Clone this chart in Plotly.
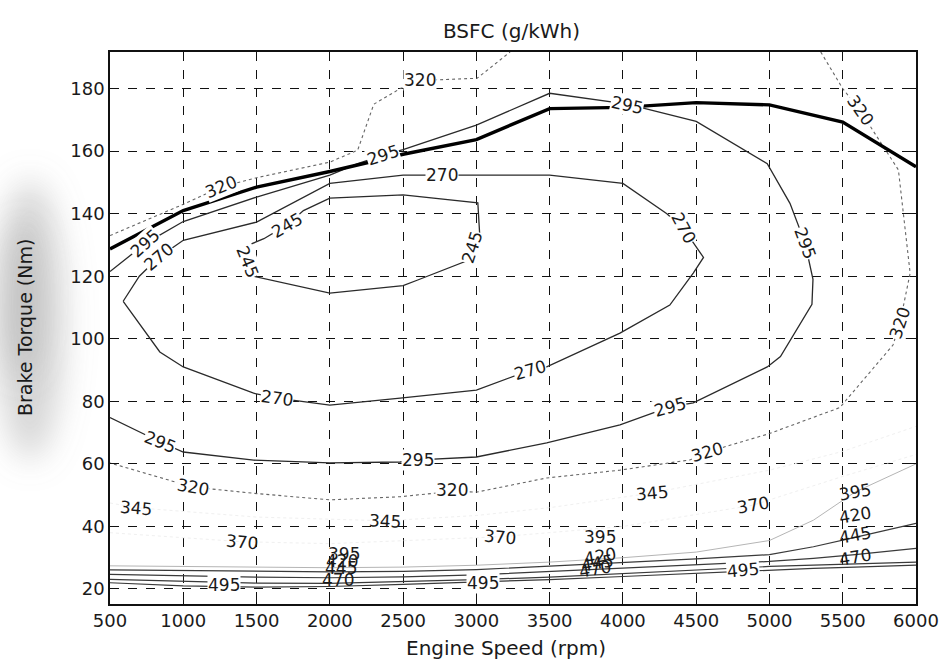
import base64
import plotly.graph_objects as go

# ---- axes -----------------------------------------------------------------
rpm_ticks = [500, 1000, 1500, 2000, 2500, 3000, 3500, 4000, 4500, 5000, 5500, 6000]
torque_ticks = [20, 40, 60, 80, 100, 120, 140, 160, 180]

# ---- full-load (maximum torque) curve ---------------------------------------
wot_rpm = [500, 1000, 1500, 2000, 2500, 3000, 3500, 4000, 4500, 5000, 5500, 6000]
wot_nm = [128.7, 141.0, 148.5, 153.5, 159.0, 163.7, 173.6, 174.0, 175.5, 174.8, 169.3, 155.0]

# ---- BSFC iso-lines (g/kWh) ------------------------------------------------
bsfc_245_rpm = [1480, 1400, 1420, 1550, 1711, 1820, 2000, 2500, 3010, 3025, 2972, 2940, 2600, 2500, 2000, 1480]
bsfc_245_nm = [120.0, 124.0, 129.5, 132.0, 136.5, 141.0, 145.0, 146.0, 143.5, 131.5, 129.3, 125.0, 118.8, 117.0, 114.6, 120.0]

bsfc_270_rpm = [590, 700, 831, 1000, 1500, 2000, 2500, 2766, 3000, 3500, 4000, 4300, 4413, 4550,
                4480, 4320, 3980, 3480, 3368, 3000, 2480, 2000, 1642, 1480, 1000, 840, 590]
bsfc_270_nm = [112.0, 120.0, 126.0, 131.5, 137.3, 149.7, 152.3, 152.3, 152.3, 152.3, 149.7, 140.0, 135.3, 126.0,
               121.0, 110.8, 101.8, 91.0, 90.0, 83.6, 81.0, 78.8, 81.0, 82.6, 91.0, 95.8, 112.0]

bsfc_295_rpm = [500, 742, 1000, 1500, 2000, 2190, 2365, 2500, 3000, 3500, 4030, 4500, 4985, 5140, 5243,
                5297, 5290, 5075, 4985, 4480, 4320, 3980, 3480, 3000, 2605, 2480, 2000, 1480, 1000, 843, 500]
bsfc_295_nm = [121.5, 130.5, 137.5, 145.3, 152.3, 156.0, 158.7, 160.5, 168.3, 178.5, 175.0, 169.5, 156.0, 143.3, 130.6,
               119.0, 111.0, 94.3, 91.0, 79.5, 78.2, 72.5, 66.7, 62.2, 61.3, 60.6, 60.3, 61.2, 63.8, 67.0, 74.8]

bsfc_320a_rpm = [500, 1000, 1254, 1500, 2000, 2190, 2300, 2480, 2618, 3005, 3230]
bsfc_320a_nm = [133.0, 143.0, 148.5, 151.5, 156.5, 160.3, 175.0, 180.0, 182.6, 183.3, 191.7]

bsfc_320b_rpm = [5350, 5500, 5618, 5843, 5880, 5960, 5925, 5890, 5843, 5480, 5000, 4576, 4460, 3980,
                 3480, 3005, 2835, 2480, 2000, 1480, 1063, 500]
bsfc_320b_nm = [191.7, 180.0, 173.0, 157.0, 154.0, 121.0, 112.6, 105.0, 98.0, 78.0, 69.7, 63.8, 61.3, 58.0,
                55.5, 51.0, 51.2, 49.5, 48.5, 50.6, 52.6, 60.3]

bsfc_345_rpm = [500, 674, 1500, 2379, 3000, 3500, 4200, 5000, 5500, 6000]
bsfc_345_nm = [47.5, 46.0, 43.0, 41.8, 43.5, 46.0, 50.7, 58.0, 64.0, 72.0]

bsfc_370_rpm = [500, 1404, 2000, 3163, 4000, 4888, 5500, 6000]
bsfc_370_nm = [38.0, 35.1, 34.5, 36.7, 40.0, 46.8, 56.0, 63.0]

low_rpm = [500, 1000, 1500, 2000, 2500, 3000, 3500, 4000, 4500, 5000, 5300, 5584, 6000]
bsfc_395_nm = [27.4, 27.2, 27.0, 26.8, 27.0, 27.6, 28.6, 30.0, 31.8, 35.5, 42.0, 51.0, 60.0]
bsfc_420_nm = [26.1, 25.9, 25.6, 25.5, 25.6, 26.2, 27.3, 28.4, 29.6, 31.0, 33.5, 36.5, 41.0]
bsfc_445_nm = [24.7, 24.2, 23.8, 23.6, 23.9, 24.5, 25.6, 26.8, 27.8, 28.8, 29.8, 31.0, 33.0]
bsfc_470_nm = [23.1, 22.4, 21.9, 21.8, 22.3, 23.0, 23.8, 25.0, 26.0, 27.2, 27.6, 28.0, 28.6]
bsfc_495_nm = [22.0, 21.0, 20.6, 20.8, 21.5, 22.2, 23.0, 24.0, 25.0, 26.2, 26.6, 27.0, 27.6]

# ---- drawing --------------------------------------------------------------
FONT = "DejaVu Sans"
INK = "#1a1a1a"
W, H = 939, 664
ML, MR, MT, MB = 110, 23, 52, 60

fig = go.Figure()

iso_lines = [
    (245, bsfc_245_rpm, bsfc_245_nm, dict(color="#2a2a2a", width=1.3)),
    (270, bsfc_270_rpm, bsfc_270_nm, dict(color="#2a2a2a", width=1.3)),
    (295, bsfc_295_rpm, bsfc_295_nm, dict(color="#2a2a2a", width=1.3)),
    (320, bsfc_320a_rpm, bsfc_320a_nm, dict(color="#666666", width=1.1, dash="dot")),
    (320, bsfc_320b_rpm, bsfc_320b_nm, dict(color="#666666", width=1.1, dash="dot")),
    (345, bsfc_345_rpm, bsfc_345_nm, dict(color="#f0f0f0", width=1.0, dash="dot")),
    (370, bsfc_370_rpm, bsfc_370_nm, dict(color="#f0f0f0", width=1.0, dash="dot")),
    (395, low_rpm, bsfc_395_nm, dict(color="#b5b5b5", width=1.0)),
    (420, low_rpm, bsfc_420_nm, dict(color="#3a3a3a", width=1.2)),
    (445, low_rpm, bsfc_445_nm, dict(color="#3a3a3a", width=1.2)),
    (470, low_rpm, bsfc_470_nm, dict(color="#3a3a3a", width=1.2)),
    (495, low_rpm, bsfc_495_nm, dict(color="#3a3a3a", width=1.2)),
]
for level, xs, ys, style in iso_lines:
    fig.add_trace(go.Scatter(x=xs, y=ys, mode="lines", line=style,
                             name=f"{level} g/kWh", hoverinfo="skip", showlegend=False))

fig.add_trace(go.Scatter(x=wot_rpm, y=wot_nm, mode="lines",
                         line=dict(color="#000000", width=3.4),
                         name="Max torque", showlegend=False))

# inline contour labels: (level, rpm, torque, angle, break the line underneath)
label_spots = [
    (245, 1711, 136.3, -30, True), (245, 1438, 124.5, 68, True), (245, 2972, 129.3, -72, True),
    (270, 831, 126.0, -40, True), (270, 2766, 152.3, 0, True), (270, 4413, 135.3, 62, True),
    (270, 1642, 81.0, 8, True), (270, 3368, 90.0, -16, True),
    (295, 742, 130.5, -42, True), (295, 2365, 158.7, -18, True), (295, 4030, 174.7, 12, True),
    (295, 5243, 130.6, 70, True), (295, 843, 67.0, 22, True), (295, 2605, 61.3, 0, True),
    (295, 4320, 78.2, -16, True),
    (320, 1254, 148.5, -22, True), (320, 2618, 182.6, 0, True), (320, 5618, 173.0, 55, True),
    (320, 5890, 105.0, -72, True), (320, 1063, 52.6, 10, True), (320, 2835, 51.7, 0, True),
    (320, 4576, 63.8, -16, True),
    (345, 674, 46.0, 5, False), (345, 2379, 41.8, 3, False), (345, 4200, 50.7, -5, False),
    (370, 1404, 35.1, 5, False), (370, 3163, 36.7, 5, False), (370, 4888, 46.8, -10, False),
    (395, 2095, 31.2, 0, False), (420, 2085, 28.8, 0, False), (445, 2075, 26.8, 0, False),
    (470, 2055, 23.0, 0, False),
    (395, 3845, 36.7, 0, False), (420, 3845, 30.6, -10, False), (445, 3825, 28.4, -10, False),
    (470, 3810, 26.4, -10, False),
    (395, 5584, 51.0, -10, False), (420, 5584, 43.7, -10, False), (445, 5584, 37.3, -10, False),
    (470, 5584, 30.3, -10, False),
    (495, 1277, 21.3, 0, True), (495, 3048, 22.0, 0, True), (495, 4822, 26.0, -5, True),
]
for level, x, y, ang, gap in label_spots:
    fig.add_annotation(x=x, y=y, xref="x", yref="y", text=str(level), showarrow=False,
                       textangle=ang, font=dict(family=FONT, size=17, color=INK),
                       bgcolor="white" if gap else "rgba(0,0,0,0)", borderpad=0)

plot_w = W - ML - MR
plot_h = H - MT - MB

def px_to_paper_x(px):
    return (px - ML) / plot_w

def px_to_paper_y(py):
    return (H - MB - py) / plot_h

# titles
fig.add_annotation(x=px_to_paper_x(511), y=px_to_paper_y(31), xref="paper", yref="paper",
                   text="BSFC (g/kWh)", showarrow=False,
                   font=dict(family=FONT, size=20, color=INK), xanchor="center", yanchor="middle")
fig.add_annotation(x=px_to_paper_x(506), y=px_to_paper_y(648), xref="paper", yref="paper",
                   text="Engine Speed (rpm)", showarrow=False,
                   font=dict(family=FONT, size=20, color=INK), xanchor="center", yanchor="middle")
fig.add_annotation(x=px_to_paper_x(25), y=px_to_paper_y(328), xref="paper", yref="paper",
                   text="Brake Torque (Nm)", showarrow=False, textangle=-90,
                   font=dict(family=FONT, size=19, color=INK), xanchor="center", yanchor="middle")

# soft grey smudge of the scanned page behind the torque axis title
haze_svg = (
    f"<svg xmlns='http://www.w3.org/2000/svg' width='{W}' height='{H}' viewBox='0 0 {W} {H}'>"
    "<defs><filter id='b' x='-100%' y='-50%' width='300%' height='200%'>"
    "<feGaussianBlur stdDeviation='16'/></filter></defs>"
    "<ellipse cx='30' cy='320' rx='34' ry='140' fill='#8a8a8a' fill-opacity='0.35' filter='url(#b)'/>"
    "<ellipse cx='22' cy='300' rx='18' ry='80' fill='#7a7a7a' fill-opacity='0.25' filter='url(#b)'/>"
    "</svg>"
)
fig.add_layout_image(
    source="data:image/svg+xml;base64," + base64.b64encode(haze_svg.encode()).decode(),
    xref="paper", yref="paper", x=-ML / plot_w, y=1 + MT / plot_h,
    sizex=W / plot_w, sizey=H / plot_h, sizing="stretch",
    xanchor="left", yanchor="top", layer="below",
)

axis_common = dict(
    showgrid=True, gridcolor="#111111", griddash="dash", gridwidth=1.2,
    showline=True, linecolor="#111111", linewidth=1.6, mirror="allticks",
    ticks="inside", ticklen=5, tickcolor="#111111", tickwidth=1.2,
    zeroline=False, tickfont=dict(family=FONT, size=18, color=INK),
    ticklabeloverflow="allow", automargin=False,
)
fig.update_xaxes(range=[500, 6000], tickvals=rpm_ticks, ticktext=[str(v) for v in rpm_ticks],
                 **axis_common)
fig.update_yaxes(range=[15.2, 191.7], tickvals=torque_ticks,
                 ticktext=[str(v) for v in torque_ticks], **axis_common)

fig.update_layout(
    width=W, height=H,
    margin=dict(l=ML, r=MR, t=MT, b=MB),
    paper_bgcolor="white", plot_bgcolor="rgba(0,0,0,0)",
    showlegend=False,
)

fig.write_html("out.html")
